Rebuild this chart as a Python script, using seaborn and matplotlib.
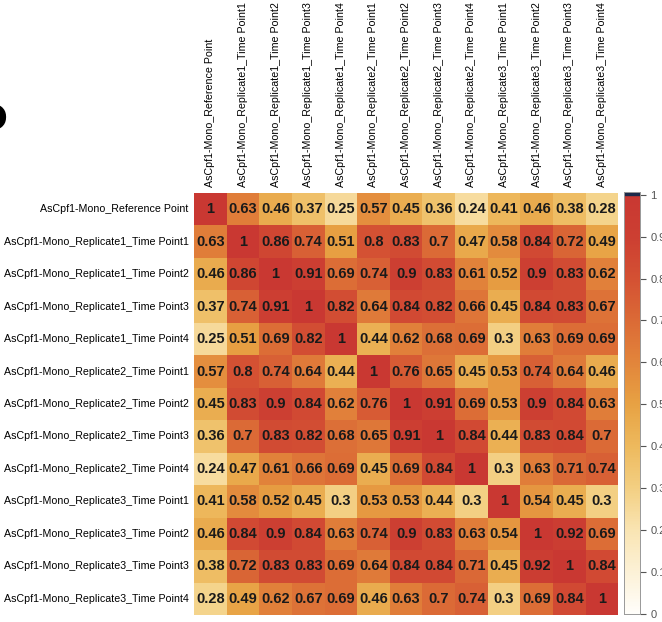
import numpy as np
import pandas as pd
import matplotlib
matplotlib.use('Agg')
import matplotlib.pyplot as plt
from matplotlib.colors import LinearSegmentedColormap
import seaborn as sns

samples = ['AsCpf1-Mono_Reference Point',
           'AsCpf1-Mono_Replicate1_Time Point1',
           'AsCpf1-Mono_Replicate1_Time Point2',
           'AsCpf1-Mono_Replicate1_Time Point3',
           'AsCpf1-Mono_Replicate1_Time Point4',
           'AsCpf1-Mono_Replicate2_Time Point1',
           'AsCpf1-Mono_Replicate2_Time Point2',
           'AsCpf1-Mono_Replicate2_Time Point3',
           'AsCpf1-Mono_Replicate2_Time Point4',
           'AsCpf1-Mono_Replicate3_Time Point1',
           'AsCpf1-Mono_Replicate3_Time Point2',
           'AsCpf1-Mono_Replicate3_Time Point3',
           'AsCpf1-Mono_Replicate3_Time Point4']

ref_pt = [1, 0.63, 0.46, 0.37, 0.25, 0.57, 0.45, 0.36, 0.24, 0.41, 0.46, 0.38, 0.28]
rep1_t1 = [0.63, 1, 0.86, 0.74, 0.51, 0.8, 0.83, 0.7, 0.47, 0.58, 0.84, 0.72, 0.49]
rep1_t2 = [0.46, 0.86, 1, 0.91, 0.69, 0.74, 0.9, 0.83, 0.61, 0.52, 0.9, 0.83, 0.62]
rep1_t3 = [0.37, 0.74, 0.91, 1, 0.82, 0.64, 0.84, 0.82, 0.66, 0.45, 0.84, 0.83, 0.67]
rep1_t4 = [0.25, 0.51, 0.69, 0.82, 1, 0.44, 0.62, 0.68, 0.69, 0.3, 0.63, 0.69, 0.69]
rep2_t1 = [0.57, 0.8, 0.74, 0.64, 0.44, 1, 0.76, 0.65, 0.45, 0.53, 0.74, 0.64, 0.46]
rep2_t2 = [0.45, 0.83, 0.9, 0.84, 0.62, 0.76, 1, 0.91, 0.69, 0.53, 0.9, 0.84, 0.63]
rep2_t3 = [0.36, 0.7, 0.83, 0.82, 0.68, 0.65, 0.91, 1, 0.84, 0.44, 0.83, 0.84, 0.7]
rep2_t4 = [0.24, 0.47, 0.61, 0.66, 0.69, 0.45, 0.69, 0.84, 1, 0.3, 0.63, 0.71, 0.74]
rep3_t1 = [0.41, 0.58, 0.52, 0.45, 0.3, 0.53, 0.53, 0.44, 0.3, 1, 0.54, 0.45, 0.3]
rep3_t2 = [0.46, 0.84, 0.9, 0.84, 0.63, 0.74, 0.9, 0.83, 0.63, 0.54, 1, 0.92, 0.69]
rep3_t3 = [0.38, 0.72, 0.83, 0.83, 0.69, 0.64, 0.84, 0.84, 0.71, 0.45, 0.92, 1, 0.84]
rep3_t4 = [0.28, 0.49, 0.62, 0.67, 0.69, 0.46, 0.63, 0.7, 0.74, 0.3, 0.69, 0.84, 1]

cbar_ticks = [0, 0.1, 0.2, 0.3, 0.4, 0.5, 0.6, 0.7, 0.8, 0.9, 1]
cbar_labels = ['0', '0.1', '0.2', '0.3', '0.4', '0.5', '0.6', '0.7', '0.8', '0.9', '1']

corr = pd.DataFrame([ref_pt, rep1_t1, rep1_t2, rep1_t3, rep1_t4,
                     rep2_t1, rep2_t2, rep2_t3, rep2_t4,
                     rep3_t1, rep3_t2, rep3_t3, rep3_t4],
                    index=samples, columns=samples)

cmap = LinearSegmentedColormap.from_list('heat', [
    (0.0, '#fffefa'), (0.2, '#f9e4b2'), (0.3, '#f3cf82'), (0.4, '#edb95d'),
    (0.5, '#e7a243'), (0.6, '#e2853b'), (0.7, '#db6a36'), (0.8, '#d45133'),
    (0.9, '#cc3f32'), (1.0, '#c93832')])

plt.rcParams['font.family'] = ['Liberation Sans', 'DejaVu Sans']

fig = plt.figure(figsize=(6.62, 6.22), dpi=100)
ax = fig.add_axes([0.293, 0.011, 0.641, 0.679])
cax = fig.add_axes([0.943, 0.013, 0.024, 0.678])

# annotate with R-style short numbers (1, 0.8, 0.63 ...)
fmt_vals = corr.map(lambda v: '%g' % v)
sns.heatmap(corr, ax=ax, cbar_ax=cax, cmap=cmap, vmin=0, vmax=1,
            annot=fmt_vals.values, fmt='',
            annot_kws={'fontsize': 10.5, 'fontweight': 'bold', 'color': '#1a1a1a'},
            cbar_kws={'ticks': cbar_ticks})

ax.xaxis.tick_top()
ax.set_xticklabels(samples, rotation=90, fontsize=7.7, ha='center', va='bottom')
ax.set_yticklabels(samples, rotation=0, fontsize=7.7)
ax.tick_params(axis='both', length=0, pad=4)
ax.set_xlabel('')
ax.set_ylabel('')

cax.set_ylim(0, 1.006)
cax.axhspan(1.0, 1.006, color='#1c2a4a')
cax.set_yticklabels(cbar_labels)
cax.tick_params(labelsize=8, length=4, colors='#555555')
for s in cax.spines.values():
    s.set_visible(True)
    s.set_color('#999999')
    s.set_linewidth(0.6)

# panel letter, mostly cropped off the left edge like in the source figure
fig.text(0.012, 0.807, 'D', fontsize=25, fontweight='bold', ha='right', va='center',
         family='DejaVu Sans')

fig.savefig('out.png', dpi=100)
